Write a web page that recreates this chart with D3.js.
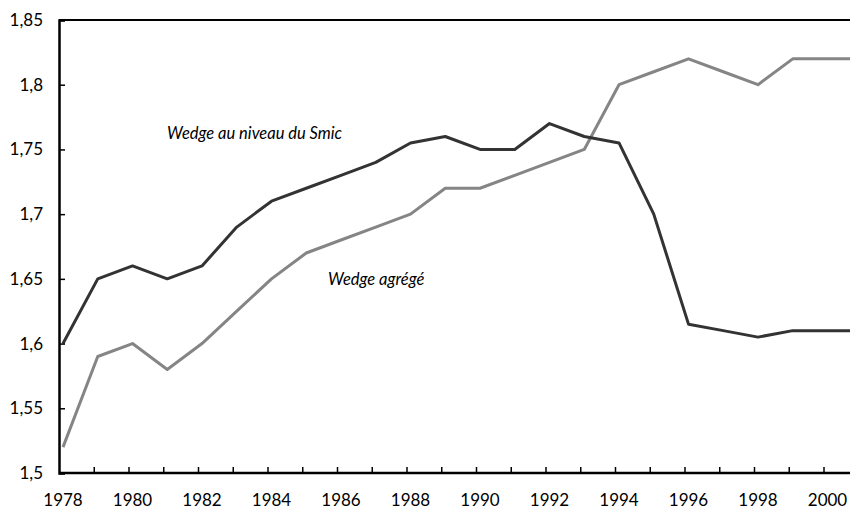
<!DOCTYPE html>
<html>
<head>
<meta charset="utf-8">
<script src="https://cdn.jsdelivr.net/npm/d3@7"></script>
<style>
  body { margin: 0; background: #fff; }
  svg text { font-family: "Lato", "Open Sans", sans-serif; fill: #000; }
</style>
</head>
<body>
<div id="chart"></div>
<script>
// Data
const years = d3.range(1978, 2002);
const wedgeSmic = [1.60, 1.65, 1.66, 1.65, 1.66, 1.69, 1.71, 1.72, 1.73, 1.74, 1.755, 1.76,
                   1.75, 1.75, 1.77, 1.76, 1.755, 1.70, 1.615, 1.61, 1.605, 1.61, 1.61, 1.61];
const wedgeAgrege = [1.52, 1.59, 1.60, 1.58, 1.60, 1.625, 1.65, 1.67, 1.68, 1.69, 1.70, 1.72,
                     1.72, 1.73, 1.74, 1.75, 1.80, 1.81, 1.82, 1.81, 1.80, 1.82, 1.82, 1.82];
const yTicks = [1.5, 1.55, 1.6, 1.65, 1.7, 1.75, 1.8, 1.85];
const xTicks = d3.range(1978, 2001, 2);

const width = 850, height = 510;
const margin = {left: 59, right: 850, top: 20, bottom: 473};

const svg = d3.select('#chart')
              .append('svg')
              .attr('width', width)
              .attr('height', height);

// Scales
const x = d3.scaleLinear()
            .domain([1978, 2001])
            .range([63, 63 + 34.75 * 23]);
const y = d3.scaleLinear()
            .domain([1.5, 1.85])
            .range([margin.bottom, margin.top]);

const fmt = d => d3.format('.2~f')(d).replace('.', ',');

// Clip lines to the plot box
svg.append('clipPath').attr('id', 'clip')
   .append('rect').attr('x', margin.left).attr('y', 0)
   .attr('width', margin.right - margin.left).attr('height', height);

const line = d3.line()
               .x((d, i) => x(years[i]))
               .y(d => y(d));

const lines = svg.append('g').attr('clip-path', 'url(#clip)');
lines.append('path')
     .datum(wedgeAgrege)
     .attr('fill', 'none')
     .attr('stroke', '#858585')
     .attr('stroke-width', 3)
     .attr('stroke-linejoin', 'round')
     .attr('d', line);
lines.append('path')
     .datum(wedgeSmic)
     .attr('fill', 'none')
     .attr('stroke', '#333333')
     .attr('stroke-width', 3)
     .attr('stroke-linejoin', 'round')
     .attr('d', line);

// Top border
svg.append('line')
   .attr('x1', margin.left).attr('x2', margin.right)
   .attr('y1', margin.top).attr('y2', margin.top)
   .attr('stroke', '#000').attr('stroke-width', 2);

// Y axis (ticks pointing inward)
const yAxis = svg.append('g')
   .attr('transform', `translate(${margin.left}, 0)`)
   .call(d3.axisRight(y).tickValues(yTicks).tickSize(6).tickFormat(fmt));
yAxis.select('.domain').attr('stroke-width', 2.5);
yAxis.selectAll('.tick line').attr('stroke-width', 1.5);
yAxis.selectAll('.tick text')
     .attr('x', -16)
     .attr('text-anchor', 'end')
     .style('font-size', '17px');

// X axis (ticks pointing up, slightly left of the points)
const xAxis = svg.append('g')
   .attr('transform', `translate(0, ${margin.bottom})`)
   .call(d3.axisTop(x).tickValues(d3.range(1979, 2001)).tickSize(6).tickFormat(''));
xAxis.select('.domain').attr('d', `M${margin.left},0H${margin.right}`).attr('stroke-width', 2.5);
xAxis.selectAll('.tick line').attr('transform', 'translate(-4,0)').attr('stroke-width', 1.5);

svg.append('g')
   .selectAll('text')
   .data(xTicks)
   .join('text')
   .attr('x', d => x(d))
   .attr('y', margin.bottom + 33)
   .attr('text-anchor', 'middle')
   .style('font-size', '17px')
   .text(d => d);

// Series labels
svg.append('text')
   .attr('x', 167).attr('y', 139)
   .style('font-size', '16.5px').style('font-style', 'italic')
   .text('Wedge au niveau du Smic');
svg.append('text')
   .attr('x', 328).attr('y', 285)
   .style('font-size', '16.5px').style('font-style', 'italic')
   .text('Wedge agrégé');
</script>
</body>
</html>
